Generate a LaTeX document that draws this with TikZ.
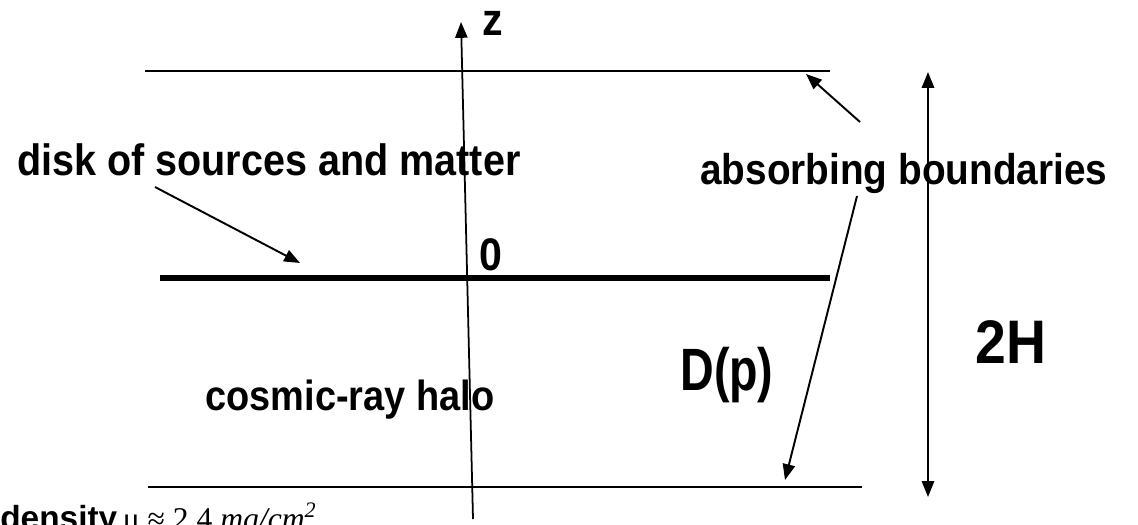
\documentclass[tikz,border=0pt]{standalone}
\usepackage{fontspec}
\setmainfont{Liberation Sans}
\newfontfamily\condfont{Liberation Sans}[FakeStretch=0.9]
\newfontfamily\narrowfont{Liberation Sans}[FakeStretch=0.78]
\newfontfamily\densfont{Liberation Serif}
\usetikzlibrary{arrows.meta,positioning}

\begin{document}
\begin{tikzpicture}[x=0.02cm, y=-0.02cm,
  lbl/.style={font=\condfont\fontsize{25}{29}\selectfont\bfseries, inner sep=0pt, anchor=base west},
  ptr/.style={line width=1.1pt, -{Triangle[length=9pt,width=7pt]}}]
\useasboundingbox (0,0) rectangle (1138,524);
% ---------------- boundaries and disk ----------------
\coordinate (topL) at (145,71);   \coordinate (topR) at (830,71);
\coordinate (midL) at (160,278);  \coordinate (midR) at (830,278);
\coordinate (botL) at (148,487);  \coordinate (botR) at (862,487);
\draw[line width=1.1pt] (topL) -- (topR);
\draw[line width=3.4pt] (midL) -- (midR);
\draw[line width=1.6pt] (botL) -- (botR);
% ---------------- z axis ----------------
\coordinate (zbot) at (473,519);
\coordinate (ztop) at (461,22);
\draw[ptr, line width=1pt] (zbot) -- (ztop);
\node[lbl, font=\condfont\fontsize{26}{30}\selectfont\bfseries] (zlbl) at (482,35) {z};
\node[lbl, font=\condfont\fontsize{26}{30}\selectfont\bfseries] (zero) at (479,270) {0};
% ---------------- labels ----------------
\node[lbl] (disk) at (17,175) {disk of sources and matter};
\node[lbl, font=\condfont\fontsize{24.5}{29}\selectfont\bfseries] (absorb) at (700,184) {absorbing boundaries};
\node[lbl, font=\condfont\fontsize{24}{28}\selectfont\bfseries] (halo) at (205,410) {cosmic-ray halo};
\node[lbl, font=\narrowfont\fontsize{34}{38}\selectfont\bfseries] (diff) at (680,390) {D(p)};
\node[lbl, font=\condfont\fontsize{35}{39}\selectfont\bfseries] (height) at (975,363) {2H};
\node[lbl, font=\fontsize{19}{22}\selectfont\bfseries] (dens) at (0,529)
  {density\,{\densfont\mdseries\fontsize{18}{21}\selectfont μ ≈ 2.4 \itshape mg/cm\textsuperscript{2}}};
% ---------------- pointers ----------------
\coordinate (diskTip) at (300,263);
\coordinate (topTip) at (806,74);
\coordinate (botTip) at (785,480);
\draw[ptr] ([shift={(138,12)}]disk.base west) -- (diskTip);
\draw[ptr] ([shift={(160,-62)}]absorb.base west) -- (topTip);
\draw[ptr] ([shift={(157,12)}]absorb.base west) -- (botTip);
% ---------------- 2H span ----------------
\coordinate (spanT) at (928,72);
\coordinate (spanB) at (928,497);
\draw[line width=1.1pt, {Triangle[length=9pt,width=7pt]}-{Triangle[length=9pt,width=7pt]}] (spanT) -- (spanB);
\end{tikzpicture}
\end{document}
